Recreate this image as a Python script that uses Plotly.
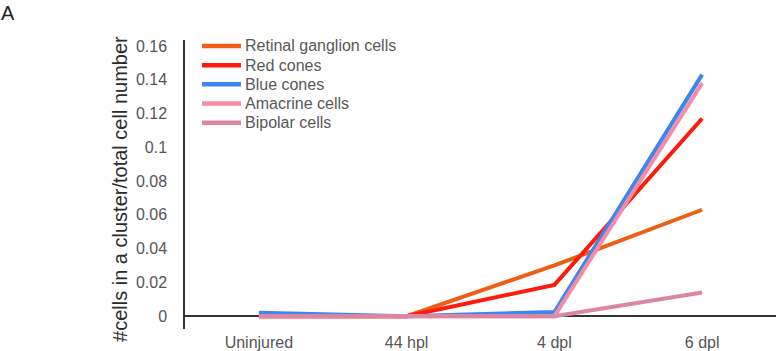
import plotly.graph_objects as go

categories = ["Uninjured", "44 hpl", "4 dpl", "6 dpl"]
series_names = ["Retinal ganglion cells", "Red cones", "Blue cones", "Amacrine cells", "Bipolar cells"]
rgc = [0.0, 0.0, 0.030, 0.063]
red_cones = [0.0, 0.0, 0.0185, 0.117]
blue_cones = [0.002, 0.0, 0.0025, 0.143]
amacrine = [0.0, 0.0, 0.0, 0.138]
bipolar = [0.0, 0.0, 0.0, 0.014]
colors = ["#EE5F14", "#FF1A0A", "#3C86F2", "#F58BA6", "#DB87A4"]
y_ticks = [0, 0.02, 0.04, 0.06, 0.08, 0.1, 0.12, 0.14, 0.16]
y_tick_text = ["0", "0.02", "0.04", "0.06", "0.08", "0.1", "0.12", "0.14", "0.16"]

W, H = 776, 351
ML, MR, MT, MB = 185, 0, 40, 20
PW, PH = W - ML - MR, H - MT - MB


def px_x(x):
    return (x - ML) / PW


def px_y(y):
    return (H - MB - y) / PH


fig = go.Figure()
for name, vals, col in zip(series_names, [rgc, red_cones, blue_cones, amacrine, bipolar], colors):
    fig.add_trace(go.Scatter(x=categories, y=vals, mode="lines", name=name,
                             line=dict(color=col, width=4), showlegend=False))

# legend drawn as paper-positioned swatches + labels
shapes = []
annotations = []
for i, (name, col) in enumerate(zip(series_names, colors)):
    yc = 46 + i * 19.3
    shapes.append(dict(type="line", xref="paper", yref="paper",
                       x0=px_x(202), x1=px_x(241), y0=px_y(yc), y1=px_y(yc),
                       line=dict(color=col, width=4.5)))
    annotations.append(dict(text=name, xref="paper", yref="paper",
                            x=px_x(243), y=px_y(yc), xanchor="left", yanchor="middle",
                            showarrow=False, font=dict(size=16, color="#595959")))

annotations += [
    dict(text="#cells in a cluster/total cell number", textangle=-90,
         x=px_x(120), y=px_y(190), xref="paper", yref="paper", showarrow=False,
         xanchor="center", yanchor="middle",
         font=dict(size=20, color="#2b2b2b")),
    dict(text="A", x=px_x(-1), y=px_y(13), xref="paper", yref="paper",
         xanchor="left", yanchor="middle", showarrow=False,
         font=dict(size=20, color="#222222")),
]

fig.update_layout(
    width=W, height=H,
    margin=dict(l=ML, r=MR, t=MT, b=MB),
    paper_bgcolor="white", plot_bgcolor="white",
    font=dict(family="Liberation Sans, Arial, sans-serif", color="#555555"),
    showlegend=False,
    xaxis=dict(type="category", range=[-0.5, 3.5], showline=False, showgrid=False,
               zeroline=False, ticks="", ticklabelstandoff=2,
               tickfont=dict(size=16, color="#555555")),
    yaxis=dict(range=[-0.0076, 0.1635], tickvals=y_ticks, ticktext=y_tick_text,
               showgrid=False, showline=True, linecolor="#333333", linewidth=1.5,
               zeroline=True, zerolinecolor="#333333", zerolinewidth=1.5,
               ticks="", ticklabelstandoff=13, tickfont=dict(size=16, color="#555555")),
    shapes=shapes,
    annotations=annotations,
)

fig.write_html("out.html")
